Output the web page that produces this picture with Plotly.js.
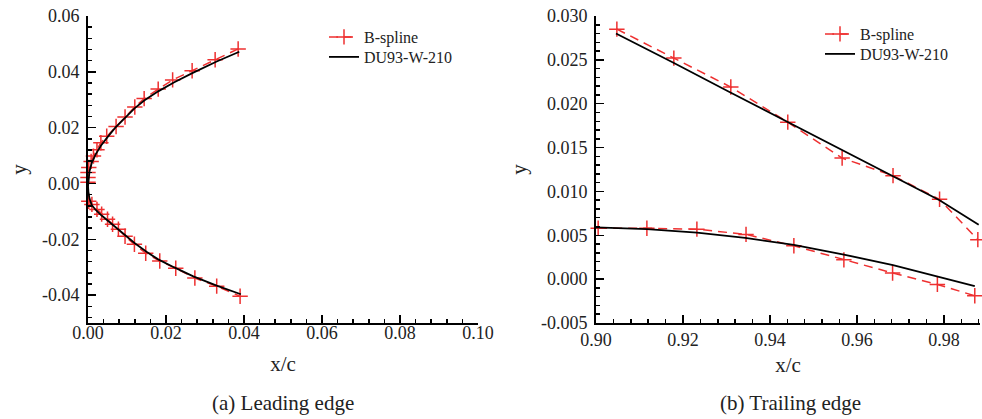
<!DOCTYPE html>
<html>
<head>
<meta charset="utf-8">
<script src="https://cdn.plot.ly/plotly-3.0.1.min.js"></script>
<style>html,body{margin:0;padding:0;background:#fff;}#chart{width:982px;height:419px;}</style>
</head>
<body>
<div id="chart"></div>
<script>
// ---- Leading edge (a) ----
var leSplineX = [0.0385, 0.0326, 0.0267, 0.0217, 0.0180, 0.0144, 0.0120, 0.0095, 0.0072, 0.0048, 0.0033, 0.0023, 0.0014, 0.0008, 0.0002, 0.0000, 0.0000, 0.0000, 0.0002, 0.0010, 0.0023, 0.0035, 0.0050, 0.0063, 0.0078, 0.0095, 0.0119, 0.0148, 0.0184, 0.0225, 0.0274, 0.0330, 0.0390];
var leSplineY = [0.0482, 0.0443, 0.0404, 0.0371, 0.0338, 0.0304, 0.0274, 0.0238, 0.0204, 0.0169, 0.0146, 0.0121, 0.0098, 0.0079, 0.0057, 0.0039, 0.0021, 0.0004, -0.0064, -0.0075, -0.0093, -0.0110, -0.0128, -0.0146, -0.0164, -0.0189, -0.0218, -0.0250, -0.0278, -0.0304, -0.0339, -0.0368, -0.0404];
var leAirfoilX = [0.0388, 0.0330, 0.0270, 0.0220, 0.0180, 0.0145, 0.0120, 0.0095, 0.0070, 0.0050, 0.0033, 0.0020, 0.0010, 0.0004, 0.0001, 0.0000, 0.0001, 0.0004, 0.0010, 0.0020, 0.0035, 0.0050, 0.0070, 0.0095, 0.0120, 0.0150, 0.0180, 0.0220, 0.0270, 0.0330, 0.0392];
var leAirfoilY = [0.0472, 0.0437, 0.0397, 0.0362, 0.0330, 0.0298, 0.0270, 0.0235, 0.0200, 0.0166, 0.0135, 0.0105, 0.0075, 0.0045, 0.0015, -0.0010, -0.0030, -0.0055, -0.0078, -0.0095, -0.0115, -0.0132, -0.0158, -0.0186, -0.0214, -0.0245, -0.0272, -0.0300, -0.0333, -0.0366, -0.0397];

// ---- Trailing edge (b) ----
var teSplineUpperX = [0.9048, 0.9179, 0.9310, 0.9441, 0.9566, 0.9683, 0.9790, 0.9878];
var teSplineUpperY = [0.0285, 0.0252, 0.0219, 0.0179, 0.0138, 0.0118, 0.0091, 0.0045];
var teSplineLowerX = [0.9005, 0.9117, 0.9232, 0.9345, 0.9455, 0.9570, 0.9682, 0.9785, 0.9871];
var teSplineLowerY = [0.0058, 0.0058, 0.0057, 0.0051, 0.0038, 0.0022, 0.0007, -0.0006, -0.0019];
var teAirfoilUpperX = [0.9046, 0.9177, 0.9308, 0.9441, 0.9566, 0.9683, 0.9790, 0.9880];
var teAirfoilUpperY = [0.0280, 0.0247, 0.0213, 0.0179, 0.0147, 0.0118, 0.0090, 0.0062];
var teAirfoilLowerX = [0.9000, 0.9117, 0.9232, 0.9343, 0.9455, 0.9570, 0.9683, 0.9780, 0.9871];
var teAirfoilLowerY = [0.0059, 0.0057, 0.0053, 0.0047, 0.0039, 0.0028, 0.0016, 0.0004, -0.0008];

// ---- Tick labels ----
var leXTickVals = [0, 0.02, 0.04, 0.06, 0.08, 0.10];
var leXTickText = ["0.00", "0.02", "0.04", "0.06", "0.08", "0.10"];
var leYTickVals = [-0.04, -0.02, 0, 0.02, 0.04, 0.06];
var leYTickText = ["-0.04", "-0.02", "0.00", "0.02", "0.04", "0.06"];
var teXTickVals = [0.90, 0.92, 0.94, 0.96, 0.98];
var teXTickText = ["0.90", "0.92", "0.94", "0.96", "0.98"];
var teYTickVals = [-0.005, 0, 0.005, 0.010, 0.015, 0.020, 0.025, 0.030];
var teYTickText = ["-0.005", "0.000", "0.005", "0.010", "0.015", "0.020", "0.025", "0.030"];

var seriesNames = ["B-spline", "DU93-W-210"];
var captions = ["(a) Leading edge", "(b) Trailing edge"];

var FONT = "'Liberation Serif', 'Times New Roman', serif";
var RED = "rgb(238,48,48)";
var splineLine = {color: RED, width: 1.5, dash: "9px,6px"};
var splineMarker = {symbol: "cross-thin-open", size: 11, line: {color: RED, width: 1.5}, color: RED};
var airfoilLine = {color: "#000", width: 1.8};

var traces = [
  {x: leSplineX, y: leSplineY, xaxis: "x", yaxis: "y", mode: "lines+markers", name: seriesNames[0], line: splineLine, marker: splineMarker, legend: "legend", cliponaxis: false},
  {x: leAirfoilX, y: leAirfoilY, xaxis: "x", yaxis: "y", mode: "lines", name: seriesNames[1], line: airfoilLine, legend: "legend2"},
  {x: teSplineUpperX, y: teSplineUpperY, xaxis: "x2", yaxis: "y2", mode: "lines+markers", name: seriesNames[0], line: splineLine, marker: splineMarker, legend: "legend3", cliponaxis: false},
  {x: teSplineLowerX, y: teSplineLowerY, xaxis: "x2", yaxis: "y2", mode: "lines+markers", name: seriesNames[0], line: splineLine, marker: splineMarker, legend: "legend3", showlegend: false, cliponaxis: false},
  {x: teAirfoilUpperX, y: teAirfoilUpperY, xaxis: "x2", yaxis: "y2", mode: "lines", name: seriesNames[1], line: airfoilLine, legend: "legend4"},
  {x: teAirfoilLowerX, y: teAirfoilLowerY, xaxis: "x2", yaxis: "y2", mode: "lines", name: seriesNames[1], line: airfoilLine, legend: "legend4", showlegend: false}
];

function axisBase(extra) {
  var a = {
    showline: true, linewidth: 2, linecolor: "#000",
    showgrid: false, zeroline: false,
    ticks: "inside", ticklen: 8, tickwidth: 1.5, tickcolor: "#000",
    tickmode: "array",
    tickfont: {family: FONT, size: 18, color: "#222"},
    fixedrange: true
  };
  for (var k in extra) a[k] = extra[k];
  return a;
}

function legendAt(xpx, rowCenterPx) {
  return {
    x: xpx / 982, xanchor: "left", y: (323 - (rowCenterPx - 15)) / 307, yanchor: "top",
    xref: "paper", yref: "paper",
    bgcolor: "rgba(0,0,0,0)", borderwidth: 0, itemwidth: 30,
    font: {family: FONT, size: 16, color: "#222"}
  };
}

var layout = {
  width: 982, height: 419,
  margin: {l: 0, r: 0, t: 16, b: 96},
  paper_bgcolor: "#fff", plot_bgcolor: "#fff",
  font: {family: FONT, color: "#222"},
  showlegend: true,
  xaxis: axisBase({
    domain: [88 / 982, 478 / 982], range: [0, 0.1], anchor: "y",
    tickvals: leXTickVals, ticktext: leXTickText, ticklabelstandoff: -8,
    minor: {tickmode: "linear", tick0: 0, dtick: 0.004, ticks: "inside", ticklen: 4, tickwidth: 1.5, tickcolor: "#000", showgrid: false},
    title: {text: "x/c", font: {family: FONT, size: 21, color: "#222"}, standoff: 15}
  }),
  yaxis: axisBase({
    domain: [0, 1], range: [-0.05, 0.06], anchor: "x",
    tickvals: leYTickVals, ticktext: leYTickText, ticklabelstandoff: 3,
    minor: {tickmode: "linear", tick0: 0, dtick: 0.004, ticks: "inside", ticklen: 4, tickwidth: 1.5, tickcolor: "#000", showgrid: false},
    title: {text: "y", font: {family: FONT, size: 21, color: "#222"}, standoff: 10}
  }),
  xaxis2: axisBase({
    domain: [596 / 982, 980 / 982], range: [0.9, 0.9883], anchor: "y2",
    tickvals: teXTickVals, ticktext: teXTickText, ticklabelstandoff: -1,
    minor: {tickmode: "linear", tick0: 0.9, dtick: 0.004, ticks: "inside", ticklen: 4, tickwidth: 1.5, tickcolor: "#000", showgrid: false},
    title: {text: "x/c", font: {family: FONT, size: 21, color: "#222"}, standoff: 9}
  }),
  yaxis2: axisBase({
    domain: [0, 1], range: [-0.005, 0.030], anchor: "x2",
    tickvals: teYTickVals, ticktext: teYTickText, ticklabelstandoff: 3,
    minor: {tickmode: "linear", tick0: 0, dtick: 0.001, ticks: "inside", ticklen: 4, tickwidth: 1.5, tickcolor: "#000", showgrid: false},
    title: {text: "y", font: {family: FONT, size: 21, color: "#222"}, standoff: 9}
  }),
  legend: legendAt(324, 35),
  legend2: legendAt(324, 55),
  legend3: legendAt(820, 32),
  legend4: legendAt(820, 52),
  annotations: [
    {text: captions[0], xref: "paper", yref: "paper", x: 283 / 982, y: (323 - 403) / 307, xanchor: "center", yanchor: "middle", showarrow: false, font: {family: FONT, size: 21, color: "#222"}},
    {text: captions[1], xref: "paper", yref: "paper", x: 790 / 982, y: (323 - 403) / 307, xanchor: "center", yanchor: "middle", showarrow: false, font: {family: FONT, size: 21, color: "#222"}}
  ]
};

Plotly.newPlot("chart", traces, layout, {staticPlot: true, displayModeBar: false});
</script>
</body>
</html>
